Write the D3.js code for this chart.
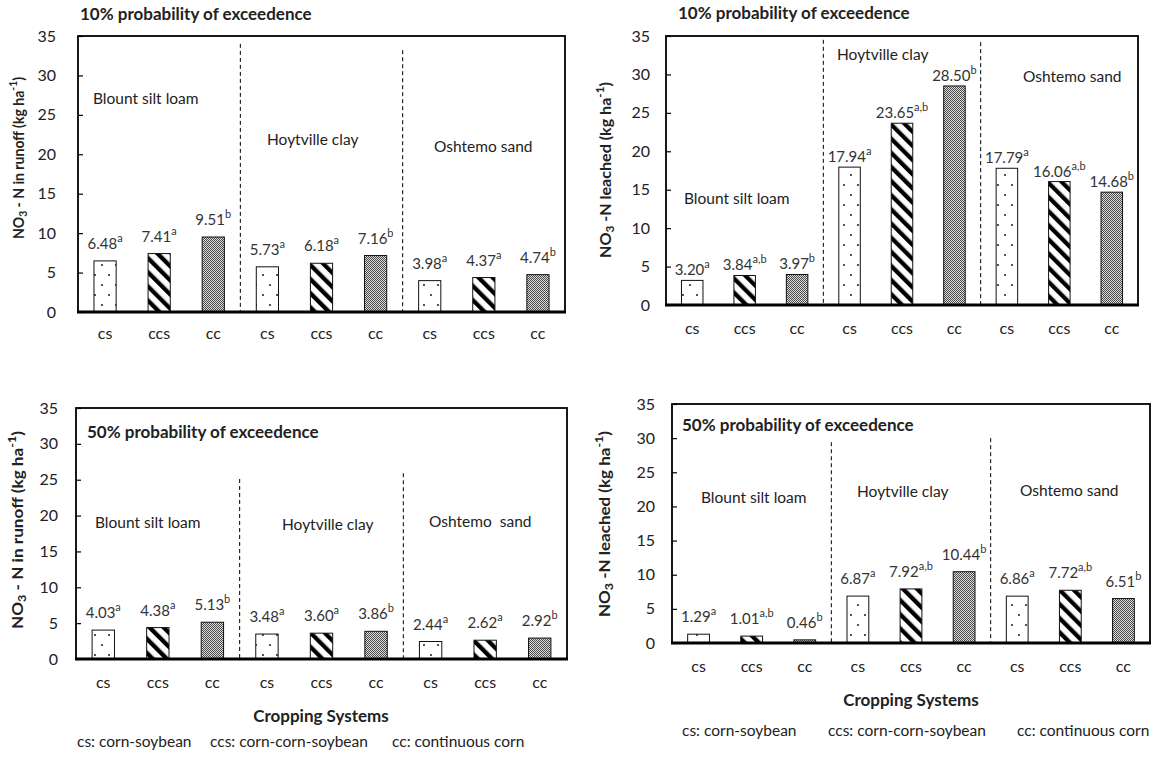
<!DOCTYPE html>
<html>
<head>
  <meta charset="utf-8">
  <title>NO3-N runoff and leaching by cropping system</title>
  <style>
    body { margin: 0; background: #fff; }
    svg { font-family: Lato, "Open Sans", sans-serif; }
    .tick line { stroke: #000; stroke-width: 1.2; }
    .tick text { font-size: 16px; fill: #222; }
    .pre { white-space: pre; }
  </style>
</head>
<body>
  <script src="https://d3js.org/d3.v7.min.js"></script>
  <script>
    // categories and data
    const categories = ["cs", "ccs", "cc", "cs", "ccs", "cc", "cs", "ccs", "cc"];
    const soils = ["Blount silt loam", "Hoytville clay", "Oshtemo sand"];
    const yTicks = [0, 5, 10, 15, 20, 25, 30, 35];

    const runoff10 = [6.48, 7.41, 9.51, 5.73, 6.18, 7.16, 3.98, 4.37, 4.74];
    const runoff10Sig = ["a", "a", "b", "a", "a", "b", "a", "a", "b"];
    const leached10 = [3.20, 3.84, 3.97, 17.94, 23.65, 28.50, 17.79, 16.06, 14.68];
    const leached10Sig = ["a", "a,b", "b", "a", "a,b", "b", "a", "a,b", "b"];
    const runoff50 = [4.03, 4.38, 5.13, 3.48, 3.60, 3.86, 2.44, 2.62, 2.92];
    const runoff50Sig = ["a", "a", "b", "a", "a", "b", "a", "a", "b"];
    const leached50 = [1.29, 1.01, 0.46, 6.87, 7.92, 10.44, 6.86, 7.72, 6.51];
    const leached50Sig = ["a", "a,b", "b", "a", "a,b", "b", "a", "a,b", "b"];

    const legendItems = ["cs: corn-soybean", "ccs: corn-corn-soybean", "cc: continuous corn"];

    // panel layout
    const panels = [
      { values: runoff10, sig: runoff10Sig, measure: " - N in runoff (kg ha",
        title: "10% probability of exceedence", titleX: 80, titleY: 16,
        x0: 78, x1: 565, top: 36, bottom: 312, tickPad: 22, labelGap: 12,
        yLabelX: 20, yLabelY: 158, yLabelLen: 162, sepTop: [34.0, 33.2],
        soilPos: [[93, 100], [267, 141], [434, 148]], soilNames: soils,
        xLabelY: 335 },
      { values: leached10, sig: leached10Sig, measure: " -N leached (kg ha",
        title: "10% probability of exceedence", titleX: 678, titleY: 15,
        x0: 666, x1: 1138, top: 36, bottom: 305, tickPad: 16, labelGap: 5,
        yLabelX: 607, yLabelY: 170, yLabelLen: 176, sepTop: [34.5, 34.2],
        soilPos: [[684, 200], [837, 56], [1023, 78]], soilNames: soils,
        xLabelY: 330 },
      { values: runoff50, sig: runoff50Sig, measure: " - N in runoff (kg ha",
        title: "50% probability of exceedence", titleX: 87, titleY: 434,
        x0: 76, x1: 567, top: 408, bottom: 659, tickPad: 18, labelGap: 12,
        yLabelX: 19, yLabelY: 530, yLabelLen: 198, sepTop: [25.1, 25.9],
        soilPos: [[95, 524], [282, 526], [429, 523]],
        soilNames: ["Blount silt loam", "Hoytville clay", "Oshtemo  sand"],
        xLabelY: 684, xTitleY: 718, xTitleX: 321,
        legendY: 743, legendX: [77, 210, 392] },
      { values: leached50, sig: leached50Sig, measure: " -N leached (kg ha",
        title: "50% probability of exceedence", titleX: 682, titleY: 427,
        x0: 672, x1: 1150, top: 404, bottom: 643, tickPad: 17, labelGap: 12,
        yLabelX: 606, yLabelY: 524, yLabelLen: 186, sepTop: [29.4, 30.0],
        soilPos: [[701, 499], [857, 493], [1020, 492]], soilNames: soils,
        xLabelY: 668, xTitleY: 702, xTitleX: 911,
        legendY: 732, legendX: [682, 828, 1017] }
    ];

    const svg = d3.select("body").append("svg")
      .attr("width", 1154)
      .attr("height", 761);

    // hatch patterns
    const defs = svg.append("defs");

    const dots = defs.append("pattern")
      .attr("id", "dots")
      .attr("patternUnits", "userSpaceOnUse")
      .attr("width", 14).attr("height", 20);
    dots.append("rect").attr("width", 14).attr("height", 20).attr("fill", "#fff");
    dots.append("circle").attr("cx", 4).attr("cy", 5).attr("r", 0.9).attr("fill", "#000");
    dots.append("circle").attr("cx", 11).attr("cy", 15).attr("r", 0.9).attr("fill", "#000");

    const stripes = defs.append("pattern")
      .attr("id", "stripes")
      .attr("patternUnits", "userSpaceOnUse")
      .attr("width", 10).attr("height", 10)
      .attr("patternTransform", "rotate(-45)");
    stripes.append("rect").attr("width", 10).attr("height", 10).attr("fill", "#fff");
    stripes.append("rect").attr("width", 4.3).attr("height", 10).attr("fill", "#000");

    const checker = defs.append("pattern")
      .attr("id", "checker")
      .attr("patternUnits", "userSpaceOnUse")
      .attr("width", 2).attr("height", 2);
    checker.append("rect").attr("width", 2).attr("height", 2).attr("fill", "#dcdcdc");
    checker.append("rect").attr("width", 1).attr("height", 1).attr("fill", "#4a4a4a");
    checker.append("rect").attr("x", 1).attr("y", 1).attr("width", 1).attr("height", 1).attr("fill", "#4a4a4a");

    const fills = { cs: "url(#dots)", ccs: "url(#stripes)", cc: "url(#checker)" };

    panels.forEach(p => {
      const g = svg.append("g");

      const x = d3.scaleBand()
        .domain(d3.range(categories.length))
        .range([p.x0, p.x1]);

      const y = d3.scaleLinear()
        .domain([0, 35])
        .range([p.bottom, p.top]);

      const barW = x.bandwidth() * 0.41;

      // frame
      g.append("rect")
        .attr("x", p.x0).attr("y", p.top)
        .attr("width", p.x1 - p.x0).attr("height", p.bottom - p.top)
        .attr("fill", "none")
        .attr("stroke", "#000")
        .attr("stroke-width", 1.8);

      // y axis
      const yAxis = d3.axisLeft(y)
        .tickValues(yTicks)
        .tickSize(-5)
        .tickPadding(p.tickPad);

      g.append("g")
        .attr("transform", `translate(${p.x0},0)`)
        .call(yAxis)
        .call(a => a.select(".domain").remove())
        .call(a => a.selectAll(".tick text").attr("font-family", "Lato, sans-serif"));

      // group separators
      [3, 6].forEach((k, i) => {
        g.append("line")
          .attr("x1", x(k)).attr("x2", x(k))
          .attr("y1", y(p.sepTop[i])).attr("y2", p.bottom)
          .attr("stroke", "#000")
          .attr("stroke-width", 1)
          .attr("stroke-dasharray", "4,3");
      });

      // bars
      g.selectAll("rect.bar")
        .data(p.values)
        .join("rect")
        .attr("class", "bar")
        .attr("x", (d, i) => x(i) + (x.bandwidth() - barW) / 2)
        .attr("y", d => y(d))
        .attr("width", barW)
        .attr("height", d => y(0) - y(d))
        .attr("fill", (d, i) => fills[categories[i]])
        .attr("stroke", "#111")
        .attr("stroke-width", 1);

      // baseline axis
      g.append("line")
        .attr("x1", p.x0 - 1).attr("x2", p.x1 + 1)
        .attr("y1", p.bottom).attr("y2", p.bottom)
        .attr("stroke", "#000")
        .attr("stroke-width", 3);

      // value labels with significance letters
      const vl = g.selectAll("text.val")
        .data(p.values)
        .join("text")
        .attr("class", "val")
        .attr("x", (d, i) => x(i) + x.bandwidth() / 2)
        .attr("y", d => y(d) - p.labelGap)
        .attr("text-anchor", "middle")
        .attr("font-size", 15)
        .attr("fill", "#333");
      vl.append("tspan").text(d => d.toFixed(2));
      vl.append("tspan")
        .attr("dy", -7)
        .attr("font-size", 11)
        .text((d, i) => p.sig[i]);

      // x category labels
      g.selectAll("text.cat")
        .data(categories)
        .join("text")
        .attr("class", "cat")
        .attr("x", (d, i) => x(i) + x.bandwidth() / 2)
        .attr("y", p.xLabelY)
        .attr("text-anchor", "middle")
        .attr("dominant-baseline", "middle")
        .attr("font-size", 16)
        .attr("fill", "#222")
        .text(d => d);

      // soil labels
      g.selectAll("text.soil")
        .data(p.soilNames)
        .join("text")
        .attr("class", "soil pre")
        .attr("x", (d, i) => p.soilPos[i][0])
        .attr("y", (d, i) => p.soilPos[i][1])
        .attr("dominant-baseline", "middle")
        .attr("font-size", 15.5)
        .attr("fill", "#222")
        .text(d => d);

      // title
      g.append("text")
        .attr("x", p.titleX)
        .attr("y", p.titleY)
        .attr("dominant-baseline", "middle")
        .attr("font-size", 17)
        .attr("font-weight", "bold")
        .attr("fill", "#222")
        .text(p.title);

      // y label
      const yl = g.append("text")
        .attr("transform", `translate(${p.yLabelX},${p.yLabelY}) rotate(-90)`)
        .attr("text-anchor", "middle")
        .attr("dominant-baseline", "middle")
        .attr("font-size", 15)
        .attr("font-weight", "bold")
        .attr("fill", "#222")
        .attr("textLength", p.yLabelLen)
        .attr("lengthAdjust", "spacingAndGlyphs");
      yl.append("tspan").text("NO");
      yl.append("tspan").attr("dy", 4).attr("font-size", 11).text("3");
      yl.append("tspan").attr("dy", -4).text(p.measure);
      yl.append("tspan").attr("dy", -6).attr("font-size", 11).text("-1");
      yl.append("tspan").attr("dy", 6).text(")");

      // x title and legend line (bottom panels only)
      if (p.xTitleY) {
        g.append("text")
          .attr("x", p.xTitleX)
          .attr("y", p.xTitleY)
          .attr("text-anchor", "middle")
          .attr("dominant-baseline", "middle")
          .attr("font-size", 17)
          .attr("font-weight", "bold")
          .attr("fill", "#222")
          .text("Cropping Systems");

        g.selectAll("text.legend")
          .data(legendItems)
          .join("text")
          .attr("class", "legend")
          .attr("x", (d, i) => p.legendX[i])
          .attr("y", p.legendY)
          .attr("dominant-baseline", "middle")
          .attr("font-size", 15.5)
          .attr("fill", "#222")
          .text(d => d);
      }
    });
  </script>
</body>
</html>
